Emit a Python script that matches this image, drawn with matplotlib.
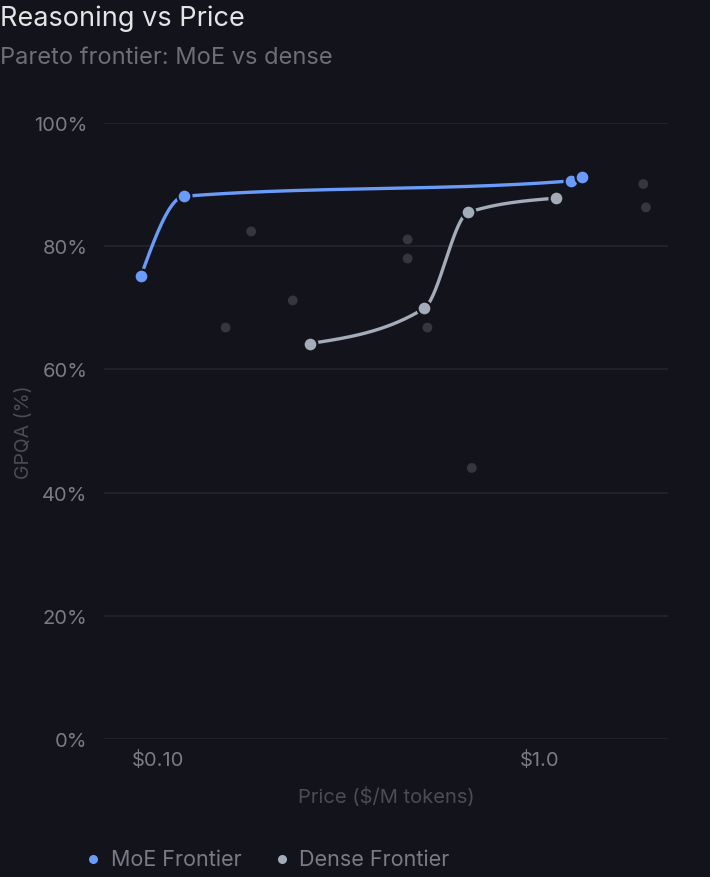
import numpy as np
import matplotlib
matplotlib.use("Agg")
import matplotlib.pyplot as plt
from matplotlib.lines import Line2D
from matplotlib.ticker import FixedLocator, FixedFormatter, NullLocator

plt.rcParams["font.family"] = ["Inter", "DejaVu Sans"]

# data
moe_price = [0.090, 0.1166, 1.206, 1.289]
moe_gpqa = [75.2, 88.1, 90.6, 91.2]

dense_price = [0.25, 0.497, 0.649, 1.099]
dense_gpqa = [64.2, 69.9, 85.5, 87.8]

other_price = [0.175, 0.45, 0.45, 0.225, 0.15, 0.507, 0.663, 1.866, 1.896]
other_gpqa = [82.4, 81.1, 78.0, 71.2, 66.8, 66.8, 44.0, 90.1, 86.3]

y_ticks = [0, 20, 40, 60, 80, 100]
x_ticks = [0.1, 1.0]
x_tick_labels = ["$0.10", "$1.0"]

BG = "#13141b"
GRID = "#25262d"
MOE = "#6b9bfa"
DENSE = "#a3acb9"
OTHER = "#36373c"
TICK = "#7b7c82"
LABEL = "#4c4d53"


def monotone_curve(xs, ys, n=60):
    # d3-style monotoneX curve, evaluated in (log10 x, y) space
    u = np.log10(np.asarray(xs, float))
    v = np.asarray(ys, float)
    h = np.diff(u)
    s = np.diff(v) / h
    m = np.zeros_like(v)
    for i in range(1, len(v) - 1):
        if s[i - 1] * s[i] <= 0:
            m[i] = 0
        else:
            p = (s[i - 1] * h[i] + s[i] * h[i - 1]) / (h[i - 1] + h[i])
            m[i] = (np.sign(s[i - 1]) + np.sign(s[i])) * min(abs(s[i - 1]), abs(s[i]), 0.5 * abs(p))
    m[0] = (3 * s[0] - m[1]) / 2 if len(v) > 2 else s[0]
    m[-1] = (3 * s[-1] - m[-2]) / 2 if len(v) > 2 else s[-1]
    uu, vv = [], []
    for i in range(len(h)):
        t = np.linspace(0, 1, n)
        h00 = 2 * t**3 - 3 * t**2 + 1
        h10 = t**3 - 2 * t**2 + t
        h01 = -2 * t**3 + 3 * t**2
        h11 = t**3 - t**2
        uu.extend(u[i] + t * h[i])
        vv.extend(h00 * v[i] + h10 * h[i] * m[i] + h01 * v[i + 1] + h11 * h[i] * m[i + 1])
    return 10 ** np.array(uu), np.array(vv)


fig = plt.figure(figsize=(7.1, 8.78), dpi=100, facecolor=BG)
ax = fig.add_axes([104 / 710, 1 - 740 / 878, 564 / 710, 616 / 878])
ax.set_facecolor(BG)

ax.set_xscale("log")
ax.set_xlim(0.0720, 2.166)
ax.set_ylim(0, 100)

for yt in y_ticks:
    ax.axhline(yt, color=GRID, lw=1.2, zorder=0)

ax.scatter(other_price, other_gpqa, s=50, color=OTHER, edgecolors="none", zorder=2)

cx, cy = monotone_curve(dense_price, dense_gpqa)
ax.plot(cx, cy, color=DENSE, lw=2.4, zorder=3, solid_capstyle="round")
ax.plot(dense_price, dense_gpqa, "o", ms=10, color=DENSE, mec=BG, mew=1.6, zorder=4)

cx, cy = monotone_curve(moe_price, moe_gpqa)
ax.plot(cx, cy, color=MOE, lw=2.4, zorder=5, solid_capstyle="round")
ax.plot(moe_price, moe_gpqa, "o", ms=10, color=MOE, mec=BG, mew=1.6, zorder=6)

for sp in ax.spines.values():
    sp.set_visible(False)

ax.xaxis.set_major_locator(FixedLocator(x_ticks))
ax.xaxis.set_major_formatter(FixedFormatter(x_tick_labels))
ax.xaxis.set_minor_locator(NullLocator())
ax.set_yticks(y_ticks)
ax.set_yticklabels([f"{v}%" for v in y_ticks])
ax.tick_params(axis="both", length=0, labelsize=14.5, labelcolor=TICK)
ax.tick_params(axis="x", pad=8)
ax.tick_params(axis="y", pad=12)

ax.set_xlabel("Price ($/M tokens)", fontsize=14.5, color=LABEL, labelpad=12)
ax.set_ylabel("GPQA (%)", fontsize=14, color=LABEL)
ax.yaxis.set_label_coords((33 - 104) / 564, 0.5)

fig.text(0.0, 1 - 19 / 878, "Reasoning vs Price", fontsize=19.5, color="#e4e4e7", va="center", ha="left")
fig.text(0.0, 1 - 58 / 878, "Pareto frontier: MoE vs dense", fontsize=17, color="#6e6f76", va="center", ha="left")

# legend row at the bottom
legend_items = [("MoE Frontier", MOE, 93, 111), ("Dense Frontier", DENSE, 282, 299)]
for name, col, dot_x, text_x in legend_items:
    fig.add_artist(Line2D([dot_x / 710], [1 - 860 / 878], transform=fig.transFigure,
                          marker="o", ls="none", ms=6.5, color=col, mec="none"))
    fig.text(text_x / 710, 1 - 860 / 878, name, fontsize=15.5, color=TICK, va="center", ha="left")

fig.savefig("out.png", dpi=100, facecolor=BG)
